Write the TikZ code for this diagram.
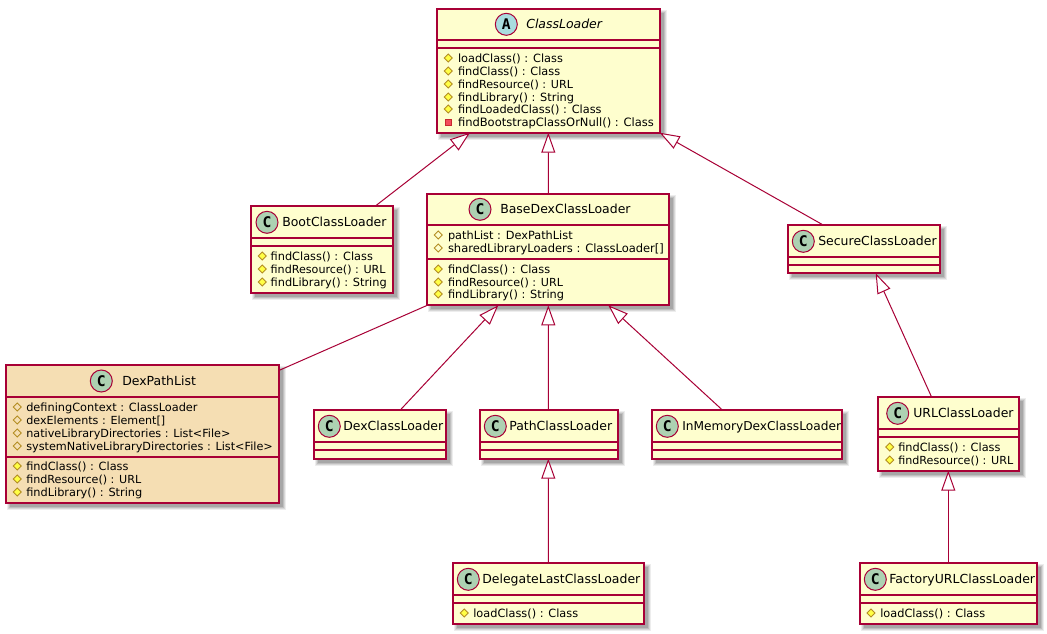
\documentclass[tikz,border=0pt]{standalone}
\usepackage{fontspec}
\setmainfont{DejaVu Sans}
\setmonofont{DejaVu Sans Mono}
\usetikzlibrary{arrows.meta,calc}
\definecolor{umlline}{HTML}{A80036}
\definecolor{umlfill}{HTML}{FEFECE}
\definecolor{umlwheat}{HTML}{F5DEB3}
\definecolor{spotc}{HTML}{ADD1B2}
\definecolor{spota}{HTML}{A9DCDF}
\definecolor{iconline}{HTML}{B38D22}
\definecolor{iconfill}{HTML}{FFFF44}
\definecolor{privline}{HTML}{C82930}
\definecolor{privfill}{HTML}{F24D5C}
\newcommand{\memsize}[1]{\fontsize{#1pt}{10pt}\selectfont}
\tikzset{
  x=0.75pt,y=-0.75pt,
  classbox/.style={draw=umlline,line width=1.25pt,outer sep=0pt,inner sep=0pt,rectangle},
  sepline/.style={draw=umlline,line width=1.25pt},
  titletext/.style={anchor=base west,inner sep=0pt,outer sep=0pt,font=\fontsize{9.35pt}{11pt}\selectfont},
  membertext/.style={anchor=base west,inner sep=0pt,outer sep=0pt,font=\fontsize{8.5pt}{10pt}\selectfont},
  spot/.style={circle,draw=umlline,line width=0.75pt,minimum size=16.5pt,inner sep=0pt,outer sep=0pt,
    font=\fontsize{11pt}{12pt}\selectfont\ttfamily\bfseries},
  inherit/.style={draw=umlline,line width=0.75pt,{Triangle[open,length=15pt,width=10.5pt,fill=white]}-},
  assoc/.style={draw=umlline,line width=0.75pt},
}
% name x1 y1 x2 y2 fill separators
\newcommand{\umlbox}[7]{%
  \foreach \g/\o in {3/0.07,2/0.09,1/0.11,0/0.12}{%
    \fill[black,fill opacity=\o] ({#2+4-\g},{#3+4-\g}) rectangle ({#4+4+\g},{#5+4+\g});}
  \pgfmathsetmacro{\cxv}{(#2+#4)/2}\pgfmathsetmacro{\cyv}{(#3+#5)/2}
  \pgfmathsetmacro{\wv}{(#4-#2)*0.75}\pgfmathsetmacro{\hv}{(#5-#3)*0.75}
  \node[classbox,fill=#6,minimum width=\wv pt,minimum height=\hv pt] (#1) at (\cxv,\cyv) {};
  \foreach \s in {#7}{\draw[sepline] (#2,\s) -- (#4,\s);}
}
% name letter fill cx cy title tx (shape font switch)
\newcommand{\umlhead}[8]{%
  \node[spot,fill=#3] (#1-spot) at (#4,#5) {#2};
  \node[titletext] (#1-title) at (#7,#5+4.5) {#8#6};
}
% protected method: name-row iconx baseline-y textx text
\newcommand{\mmeth}[5]{%
  \draw[draw=iconline,fill=iconfill,line width=0.6pt] (#2-4,#3-4) -- (#2,#3-8) -- (#2+4,#3-4) -- (#2,#3) -- cycle;
  \node[membertext] (#1) at (#4,#3) {#5};
}
% protected field
\newcommand{\mfield}[5]{%
  \draw[draw=iconline,line width=0.6pt] (#2-4,#3-4) -- (#2,#3-8) -- (#2+4,#3-4) -- (#2,#3) -- cycle;
  \node[membertext] (#1) at (#4,#3) {#5};
}
% private method
\newcommand{\mpriv}[5]{%
  \draw[draw=privline,fill=privfill,line width=0.6pt] (#2-3,#3-7) rectangle (#2+3,#3-1);
  \node[membertext] (#1) at (#4,#3) {#5};
}
\begin{document}
\begin{tikzpicture}
\useasboundingbox[fill=white] (0,0) rectangle (1047,633);
% ClassLoader
\umlbox{classloader}{437.3}{8.7}{659.7}{132.7}{umlfill}{40.3,48.3}
\umlhead{classloader}{A}{spota}{506.3}{24.3}{ClassLoader}{526.3}{\itshape}
\mmeth{cl1}{448.3}{62}{458}{loadClass() : Class}
\mmeth{cl2}{448.3}{75}{458}{findClass() : Class}
\mmeth{cl3}{448.3}{88}{458}{\memsize{8.35}findResource() : URL}
\mmeth{cl4}{448.3}{101}{458}{findLibrary() : String}
\mmeth{cl5}{448.3}{113}{458}{findLoadedClass() : Class}
\mpriv{cl6}{448.3}{126}{458}{\memsize{8.63}findBootstrapClassOrNull() : Class}
% BootClassLoader
\umlbox{boot}{251.3}{206.3}{392.7}{292.7}{umlfill}{238.3,246.3}
\umlhead{boot}{C}{spotc}{267}{222.3}{BootClassLoader}{282.3}{}
\mmeth{bo1}{262.3}{260}{270.7}{findClass() : Class}
\mmeth{bo2}{262.3}{273}{270.7}{\memsize{8.35}findResource() : URL}
\mmeth{bo3}{262.3}{286}{270.7}{findLibrary() : String}
% BaseDexClassLoader
\umlbox{basedex}{427.3}{193.7}{669.3}{305.3}{umlfill}{225.3,258.7}
\umlhead{basedex}{C}{spotc}{480}{209.3}{BaseDexClassLoader}{500.3}{}
\mfield{ba1}{438.3}{239}{448}{pathList : DexPathList}
\mfield{ba2}{438.3}{252}{448}{\memsize{8.63}sharedLibraryLoaders : ClassLoader[]}
\mmeth{ba3}{438.3}{273}{448}{findClass() : Class}
\mmeth{ba4}{438.3}{286}{448}{\memsize{8.35}findResource() : URL}
\mmeth{ba5}{438.3}{298}{448}{findLibrary() : String}
% SecureClassLoader
\umlbox{secure}{788.3}{225.3}{940.3}{273.3}{umlfill}{257.3,265.3}
\umlhead{secure}{C}{spotc}{803.3}{241.3}{SecureClassLoader}{818.3}{}
% DexPathList
\umlbox{dexpath}{6.3}{365.3}{279.3}{502.7}{umlwheat}{397.3,456.7}
\umlhead{dexpath}{C}{spotc}{101.3}{381}{DexPathList}{122.3}{}
\mfield{dp1}{17.3}{411}{26.3}{definingContext : ClassLoader}
\mfield{dp2}{17.3}{424}{26.3}{\memsize{8.35}dexElements : Element[]}
\mfield{dp3}{17.3}{437}{26.3}{\memsize{8.4}nativeLibraryDirectories : List<File>}
\mfield{dp4}{17.3}{450}{26.3}{\memsize{8.42}systemNativeLibraryDirectories : List<File>}
\mmeth{dp5}{17.3}{470}{26.3}{findClass() : Class}
\mmeth{dp6}{17.3}{483}{26.3}{\memsize{8.35}findResource() : URL}
\mmeth{dp7}{17.3}{496}{26.3}{findLibrary() : String}
% DexClassLoader
\umlbox{dexcl}{314.3}{410.3}{445.7}{458.7}{umlfill}{442.3,450.3}
\umlhead{dexcl}{C}{spotc}{329.3}{426.3}{DexClassLoader}{343.3}{}
% PathClassLoader
\umlbox{pathcl}{480.3}{410.3}{617.7}{458.7}{umlfill}{442.3,450.3}
\umlhead{pathcl}{C}{spotc}{495.3}{426.3}{PathClassLoader}{509.3}{}
% InMemoryDexClassLoader
\umlbox{inmem}{652.3}{410.3}{842.3}{458.7}{umlfill}{442.3,450.3}
\umlhead{inmem}{C}{spotc}{667.3}{426.3}{InMemoryDexClassLoader}{682.3}{\fontsize{9.15pt}{11pt}\selectfont}
% URLClassLoader
\umlbox{urlcl}{878.3}{397.3}{1019.3}{470.7}{umlfill}{429.3,437.3}
\umlhead{urlcl}{C}{spotc}{897.7}{413.3}{URLClassLoader}{913.3}{}
\mmeth{ur1}{889.7}{451}{898.3}{findClass() : Class}
\mmeth{ur2}{889.7}{464}{898.3}{\memsize{8.35}findResource() : URL}
% DelegateLastClassLoader
\umlbox{delegate}{453.3}{563.3}{644.3}{623.7}{umlfill}{595.3,603.3}
\umlhead{delegate}{C}{spotc}{468.3}{579.3}{DelegateLastClassLoader}{482.3}{}
\mmeth{de1}{464.3}{617}{473.3}{loadClass() : Class}
% FactoryURLClassLoader
\umlbox{factory}{860.3}{563.3}{1037.3}{623.7}{umlfill}{595.3,603.3}
\umlhead{factory}{C}{spotc}{875.3}{579.3}{FactoryURLClassLoader}{889.3}{}
\mmeth{fa1}{871}{617}{880.3}{loadClass() : Class}
% connectors
\draw[inherit] ($(classloader.south west)+(32.7,0)$) -- ($(boot.north west)+(123.7,0)$);
\draw[inherit] ($(classloader.south west)+(111,0)$) -- ($(basedex.north west)+(121,0)$);
\draw[inherit] ($(classloader.south east)+(0,0)$) -- ($(secure.north west)+(35.4,0)$);
\draw[assoc] ($(basedex.south west)$) -- ($(dexpath.north east)+(0,5)$);
\draw[inherit] ($(basedex.south west)+(71,0)$) -- ($(dexcl.north west)+(85.7,0)$);
\draw[inherit] ($(basedex.south west)+(121,0)$) -- ($(pathcl.north west)+(68,0)$);
\draw[inherit] ($(basedex.south west)+(181,0)$) -- ($(inmem.north west)+(70.4,0)$);
\draw[inherit] ($(secure.south west)+(87.4,0)$) -- ($(urlcl.north west)+(53.4,0)$);
\draw[inherit] ($(urlcl.south west)+(70,0)$) -- ($(factory.north west)+(88,0)$);
\draw[inherit] ($(pathcl.south west)+(68,0)$) -- ($(delegate.north west)+(95,0)$);
\end{tikzpicture}
\end{document}
